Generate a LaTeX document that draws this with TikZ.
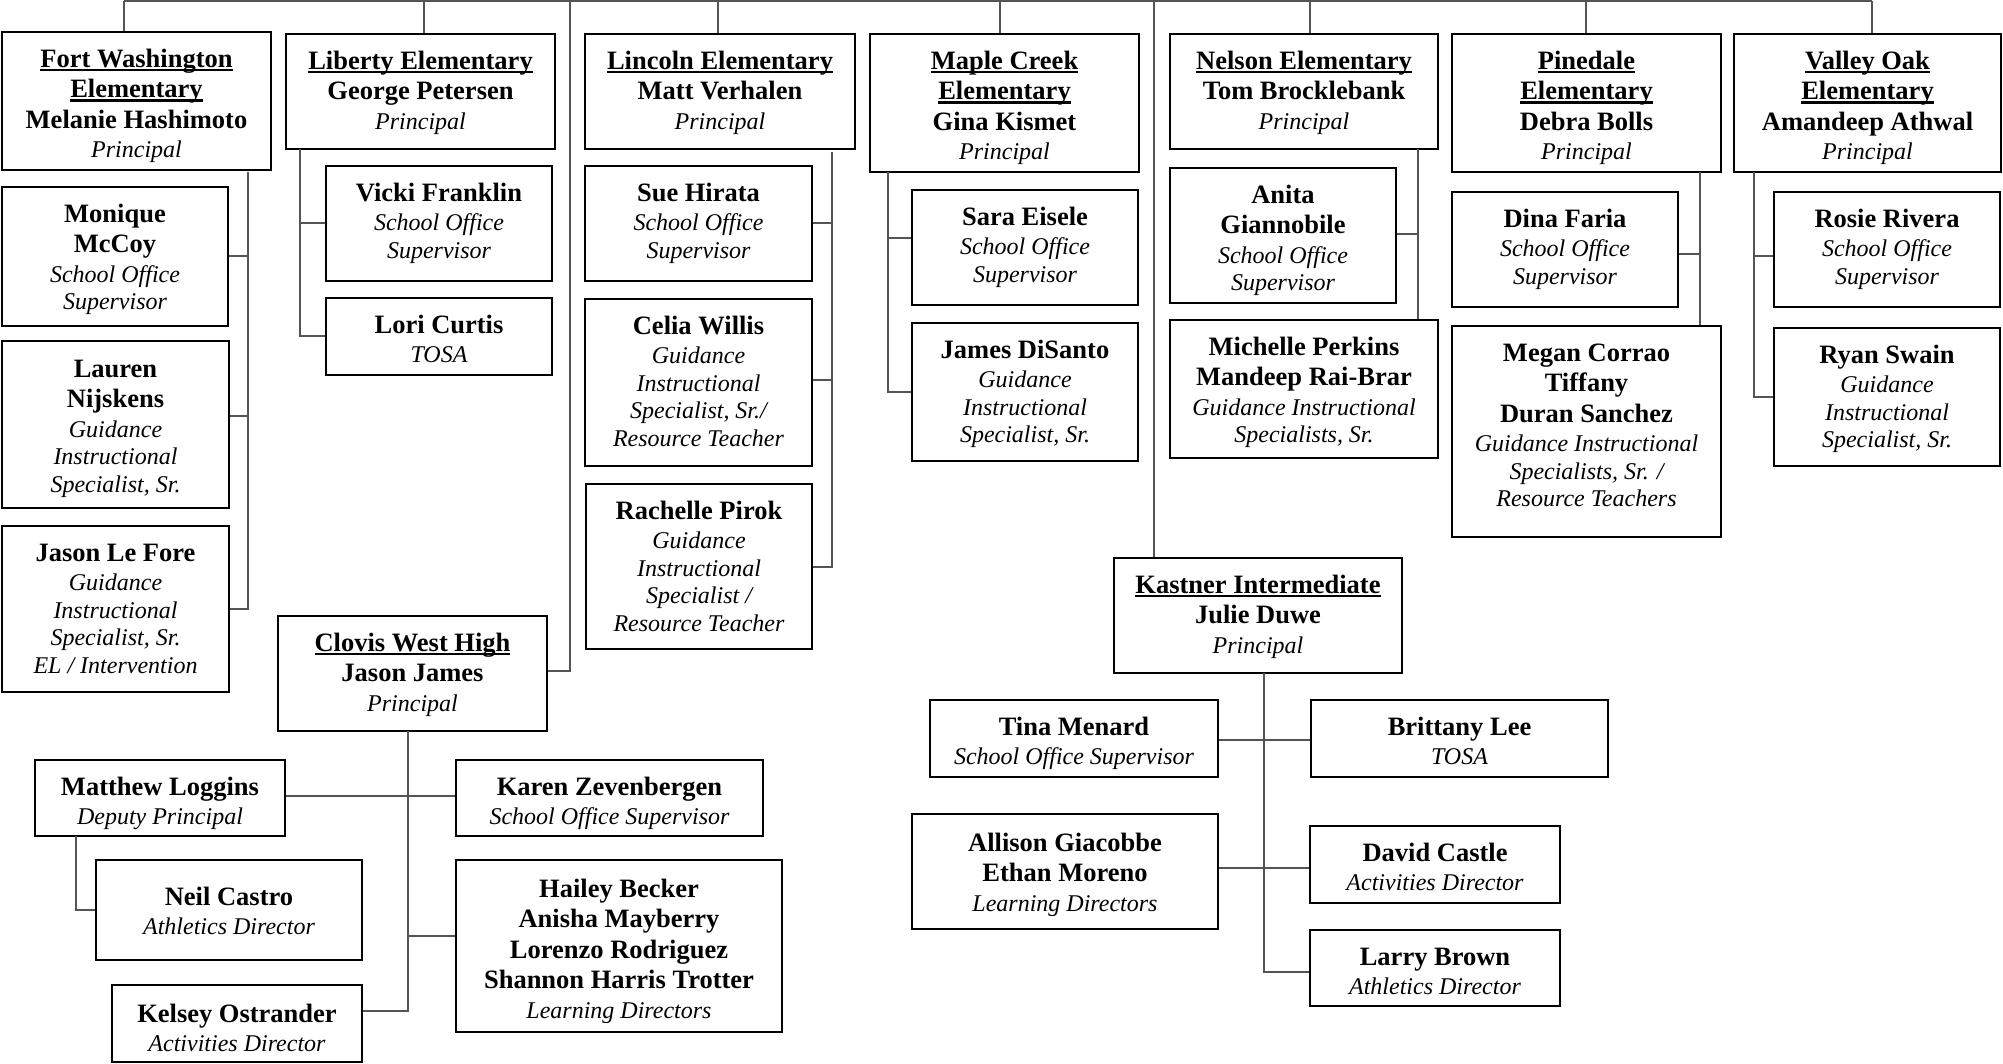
\documentclass[tikz,border=0pt]{standalone}
\usepackage{fontspec}
\setmainfont{Liberation Serif}
\newsavebox\ulbox
\newcommand\ulx[1]{\sbox\ulbox{\bfseries #1}\rlap{\rule[-4pt]{\wd\ulbox}{2.5pt}}\usebox\ulbox}
\newcommand\nmx[1]{\textbf{#1}}
\newcommand\rlx[1]{\fontsize{24}{27.5}\selectfont\itshape #1}
\newcommand\brA{\\[-1pt]}
\newcommand\brB{\\[-3pt]}
\tikzset{
  obox/.style={draw=black, line width=2pt, inner sep=0pt, fill=white},
  otext/.style={inner sep=0pt, align=center, anchor=north,
    font=\fontsize{26.5}{30.5}\selectfont},
  conn/.style={draw=black!67, line width=2pt}
}
\newcommand\orgbox[7][11]{%
  \node[obox, minimum width={#5-#3}, minimum height={#6-#4}] (#2) at ({(#3+#5)/2},{(#4+#6)/2}) {};
  \node[otext] (#2-t) at ({(#3+#5)/2},{#4+#1}) {\rule{0pt}{24pt}#7};}
\begin{document}
\begin{tikzpicture}[x=1pt,y=-1pt]
\fill[white] (0,0) rectangle (2003,1064);
\useasboundingbox (0,0) rectangle (2003,1064);
% principals
\orgbox{fw}{2}{32}{271}{170}{\ulx{Fort Washington}\\\ulx{Elementary}\\\nmx{Melanie Hashimoto}\brA\rlx{Principal}}
\orgbox{lib}{286}{34}{555}{149}{\ulx{Liberty Elementary}\\\nmx{George Petersen}\brA\rlx{Principal}}
\orgbox{lin}{585}{34}{855}{149}{\ulx{Lincoln Elementary}\\\nmx{Matt Verhalen}\brA\rlx{Principal}}
\orgbox{map}{870}{34}{1139}{172}{\ulx{Maple Creek}\\\ulx{Elementary}\\\nmx{Gina Kismet}\brA\rlx{Principal}}
\orgbox{nel}{1170}{34}{1438}{149}{\ulx{Nelson Elementary}\\\nmx{Tom Brocklebank}\brA\rlx{Principal}}
\orgbox{pin}{1452}{34}{1721}{172}{\ulx{Pinedale}\\\ulx{Elementary}\\\nmx{Debra Bolls}\brA\rlx{Principal}}
\orgbox{vo}{1734}{34}{2001}{172}{\ulx{Valley Oak}\\\ulx{Elementary}\\\nmx{Amandeep Athwal}\brA\rlx{Principal}}
\orgbox{cw}{278}{616}{547}{731}{\ulx{Clovis West High}\\\nmx{Jason James}\brA\rlx{Principal}}
\orgbox{kas}{1114}{558}{1402}{673}{\ulx{Kastner Intermediate}\\\nmx{Julie Duwe}\brA\rlx{Principal}}
% Fort Washington staff
\orgbox{mon}{2}{187}{228}{326}{\nmx{Monique}\\\nmx{McCoy}\brA\rlx{School Office}\brB\rlx{Supervisor}}
\orgbox[12]{lau}{2}{341}{229}{508}{\nmx{Lauren}\\\nmx{Nijskens}\brA\rlx{Guidance}\brB\rlx{Instructional}\brB\rlx{Specialist, Sr.}}
\orgbox{jlf}{2}{526}{229}{692}{\nmx{Jason Le Fore}\brA\rlx{Guidance}\brB\rlx{Instructional}\brB\rlx{Specialist, Sr.}\brB\rlx{EL / Intervention}}
% Liberty staff
\orgbox{vic}{326}{166}{552}{281}{\nmx{Vicki Franklin}\brA\rlx{School Office}\brB\rlx{Supervisor}}
\orgbox{lori}{326}{298}{552}{375}{\nmx{Lori Curtis}\brA\rlx{TOSA}}
% Lincoln staff
\orgbox{sue}{585}{166}{812}{281}{\nmx{Sue Hirata}\brA\rlx{School Office}\brB\rlx{Supervisor}}
\orgbox{cel}{585}{299}{812}{466}{\nmx{Celia Willis}\brA\rlx{Guidance}\brB\rlx{Instructional}\brB\rlx{Specialist, Sr./}\brB\rlx{Resource Teacher}}
\orgbox{rac}{586}{484}{812}{649}{\nmx{Rachelle Pirok}\brA\rlx{Guidance}\brB\rlx{Instructional}\brB\rlx{Specialist /}\brB\rlx{Resource Teacher}}
% Maple Creek staff
\orgbox{sara}{912}{190}{1138}{305}{\nmx{Sara Eisele}\brA\rlx{School Office}\brB\rlx{Supervisor}}
\orgbox{jam}{912}{323}{1138}{461}{\nmx{James DiSanto}\brA\rlx{Guidance}\brB\rlx{Instructional}\brB\rlx{Specialist, Sr.}}
% Nelson staff
\orgbox{ani}{1170}{168}{1396}{303}{\nmx{Anita}\\\nmx{Giannobile}\brA\rlx{School Office}\brB\rlx{Supervisor}}
\orgbox{mic}{1170}{320}{1438}{458}{\nmx{Michelle Perkins}\\\nmx{Mandeep Rai-Brar}\brA\rlx{Guidance Instructional}\brB\rlx{Specialists, Sr.}}
% Pinedale staff
\orgbox{dina}{1452}{192}{1678}{307}{\nmx{Dina Faria}\brA\rlx{School Office}\brB\rlx{Supervisor}}
\orgbox{meg}{1452}{326}{1721}{537}{\nmx{Megan Corrao}\\\nmx{Tiffany}\\\nmx{Duran Sanchez}\brA\rlx{Guidance Instructional}\brB\rlx{Specialists, Sr. /}\brB\rlx{Resource Teachers}}
% Valley Oak staff
\orgbox{rosie}{1774}{192}{2000}{307}{\nmx{Rosie Rivera}\brA\rlx{School Office}\brB\rlx{Supervisor}}
\orgbox{ryan}{1774}{328}{2000}{466}{\nmx{Ryan Swain}\brA\rlx{Guidance}\brB\rlx{Instructional}\brB\rlx{Specialist, Sr.}}
% Clovis West staff
\orgbox{matt}{35}{760}{285}{836}{\nmx{Matthew Loggins}\brA\rlx{Deputy Principal}}
\orgbox{karen}{456}{760}{763}{836}{\nmx{Karen Zevenbergen}\brA\rlx{School Office Supervisor}}
\orgbox[21]{neil}{96}{860}{362}{960}{\nmx{Neil Castro}\brA\rlx{Athletics Director}}
\orgbox[13]{hail}{456}{860}{782}{1032}{\nmx{Hailey Becker}\\\nmx{Anisha Mayberry}\\\nmx{Lorenzo Rodriguez}\\\nmx{Shannon Harris Trotter}\brA\rlx{Learning Directors}}
\orgbox[13]{kel}{112}{985}{362}{1062}{\nmx{Kelsey Ostrander}\brA\rlx{Activities Director}}
% Kastner staff
\orgbox{tina}{930}{700}{1218}{777}{\nmx{Tina Menard}\brA\rlx{School Office Supervisor}}
\orgbox{brit}{1311}{700}{1608}{777}{\nmx{Brittany Lee}\brA\rlx{TOSA}}
\orgbox[13]{alli}{912}{814}{1218}{929}{\nmx{Allison Giacobbe}\\\nmx{Ethan Moreno}\brA\rlx{Learning Directors}}
\orgbox{dav}{1310}{826}{1560}{903}{\nmx{David Castle}\brA\rlx{Activities Director}}
\orgbox{lar}{1310}{930}{1560}{1006}{\nmx{Larry Brown}\brA\rlx{Athletics Director}}
% top bus and stubs
\coordinate (s1) at (124,1);
\coordinate (s2) at (424,1);
\coordinate (s3) at (718,1);
\coordinate (s4) at (1000,1);
\coordinate (s5) at (1310,1);
\coordinate (s6) at (1586,1);
\coordinate (s7) at (1872,1);
\coordinate (scw) at (570,1);
\coordinate (ska) at (1154,1);
\draw[conn] (s1) -- (s7);
\draw[conn] (s1) -- (s1 |- fw.north);
\draw[conn] (s2) -- (s2 |- lib.north);
\draw[conn] (s3) -- (s3 |- lin.north);
\draw[conn] (s4) -- (s4 |- map.north);
\draw[conn] (s5) -- (s5 |- nel.north);
\draw[conn] (s6) -- (s6 |- pin.north);
\draw[conn] (s7) -- (s7 |- vo.north);
\draw[conn] (scw) |- ([yshift=2.5pt]cw.east);
\draw[conn] (ska) -- (ska |- kas.north);
% Fort Washington trunk
\coordinate (tfw) at (248,172);
\draw[conn] (tfw) |- (jlf.east);
\draw[conn] (mon.east) -- (mon.east -| tfw);
\draw[conn] ([yshift=8.5pt]lau.east) -- ++(19,0);
% Liberty trunk
\coordinate (tlib) at (300,149);
\draw[conn] (tlib) |- (lori.west);
\draw[conn] (vic.west) -- (vic.west -| tlib);
% Lincoln trunk
\coordinate (tlin) at (832,152);
\draw[conn] (tlin) |- (rac.east);
\draw[conn] (sue.east) -- (sue.east -| tlin);
\draw[conn] ([yshift=2.5pt]cel.east) -- ++(20,0);
% Maple Creek trunk
\coordinate (tmap) at (888,172);
\draw[conn] (tmap) |- (jam.west);
\draw[conn] ([yshift=9.5pt]sara.west) -- ++(-24,0);
% Nelson trunk
\coordinate (tnel) at (1418,149);
\draw[conn] (tnel) -- (tnel |- mic.north);
\draw[conn] ([yshift=1.5pt]ani.east) -- ++(22,0);
% Pinedale trunk
\coordinate (tpin) at (1700,172);
\draw[conn] (tpin) -- (tpin |- meg.north);
\draw[conn] ([yshift=-4.5pt]dina.east) -- ++(22,0);
% Valley Oak trunk
\coordinate (tvo) at (1754,172);
\draw[conn] (tvo) |- (ryan.west);
\draw[conn] ([yshift=-6.5pt]rosie.west) -- ++(-20,0);
% Clovis West trunk
\coordinate (tcw) at (408,731);
\draw[conn] (tcw) |- ([yshift=12.5pt]kel.east);
\draw[conn] ([yshift=2pt]matt.east) -- ([yshift=2pt]karen.west);
\draw[conn] ([yshift=10pt]hail.west) -- ++(-48,0);
\coordinate (tmatt) at (76,836);
\draw[conn] (tmatt) |- (neil.west);
% Kastner trunk
\coordinate (tkas) at (1264,673);
\draw[conn] (tkas) |- ([yshift=-4pt]lar.west);
\draw[conn] ([yshift=-1.5pt]tina.east) -- ([yshift=-1.5pt]brit.west);
\draw[conn] ([yshift=3.5pt]alli.east) -- ([yshift=-3.5pt]dav.west);
\end{tikzpicture}
\end{document}
